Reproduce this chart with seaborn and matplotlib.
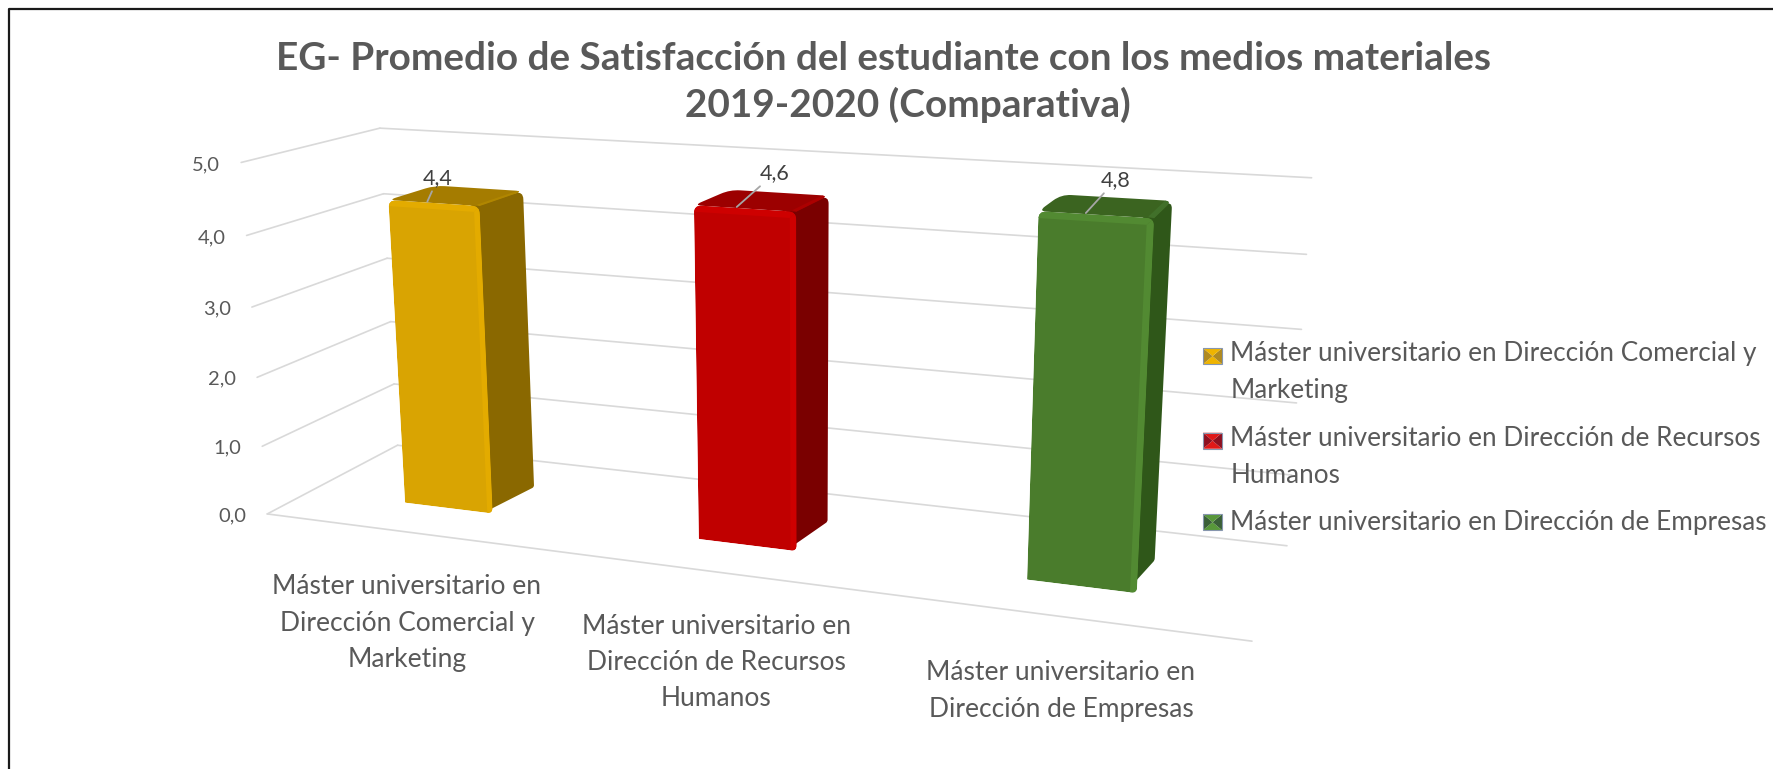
import numpy as np
import matplotlib
matplotlib.use("Agg")
import matplotlib.pyplot as plt
import seaborn as sns
import pandas as pd
from matplotlib.transforms import Transform, IdentityTransform
from matplotlib.patches import Polygon, Patch, PathPatch
from matplotlib.path import Path
from matplotlib.lines import Line2D
from matplotlib.legend_handler import HandlerBase

# ---- data ----
categories = ["Máster universitario en Dirección Comercial y Marketing",
              "Máster universitario en Dirección de Recursos Humanos",
              "Máster universitario en Dirección de Empresas"]
values = [4.4, 4.6, 4.8]
value_labels = ["4,4", "4,6", "4,8"]
y_ticks = [0, 1, 2, 3, 4, 5]
y_tick_labels = ["0,0", "1,0", "2,0", "3,0", "4,0", "5,0"]
axis_labels = ["Máster universitario en\nDirección Comercial y\nMarketing",
               "Máster universitario en\nDirección de Recursos\nHumanos",
               "Máster universitario en\nDirección de Empresas"]
legend_labels = ["Máster universitario en Dirección Comercial y\nMarketing",
                 "Máster universitario en Dirección de Recursos\nHumanos",
                 "Máster universitario en Dirección de Empresas"]
title = "EG- Promedio de Satisfacción del estudiante con los medios materiales\n     2019-2020 (Comparativa)"

# ---- style ----
front_colors = ["#D9A402", "#C00000", "#4A7C2C"]
side_colors = ["#8A6800", "#7A0000", "#2F5719"]
top_colors = ["#A57C00", "#9C0000", "#3B6420"]
top_bevel_colors = ["#B08600", "#AC0000", "#41702A"]
bevel_colors = ["#E3AB00", "#CE0000", "#528A32"]
swatch_tb = ["#EFB400", "#E01818", "#58983A"]
swatch_lr = ["#B08A20", "#8E1020", "#3A6038"]
swatch_edge = "#8796AE"
text_color = "#595959"
grid_color = "#D9D9D9"
BAR_W = 0.31
Z0, Z1 = 0.31, 0.67

W_PX, H_PX = 1773, 769
# projection calibration: (category pos, value, depth) -> reference pixel
calib = [((0, 0, 0), (267, 514)), ((3, 0, 0), (1252, 641)), ((0, 0, 1), (398, 445)),
         ((3, 0, 1), (1287, 546)), ((0, 5, 0), (242, 162)), ((0, 5, 1), (380, 128)),
         ((3, 5, 1), (1312, 178)), ((0, 4, 0), (246, 236)), ((0, 4, 1), (383, 194)),
         ((3, 4, 1), (1306, 254))]
rows = []
rhs = []
for (X, Y, Z), (u, v) in calib:
    p = [X, Y, Z, 1.0]
    rows.append(p + [0, 0, 0, 0] + [-u * q for q in p[:3]])
    rows.append([0, 0, 0, 0] + p + [-v * q for q in p[:3]])
    rhs += [u, v]
P = np.append(np.linalg.lstsq(np.array(rows, float), np.array(rhs, float), rcond=None)[0], 1.0).reshape(3, 4)


def project(x, y, z):
    """x = seaborn category coordinate, y = value, z = depth -> display pixels."""
    x, y, z = np.broadcast_arrays(x, y, z)
    q = P @ np.vstack([np.ravel(x) + 0.5, np.ravel(y), np.ravel(z), np.ones(np.size(x))])
    return np.column_stack([q[0] / q[2], H_PX - q[1] / q[2]])


class Plane(Transform):
    """(x, value) at fixed depth z to display pixels."""
    input_dims = output_dims = 2

    def __init__(self, z):
        super().__init__()
        self.z = z

    def transform_non_affine(self, values):
        v = np.asarray(values, float)
        return project(v[:, 0], v[:, 1], self.z)


class SideWall(Transform):
    """(depth, value) on the left wall to display pixels."""
    input_dims = output_dims = 2

    def transform_non_affine(self, values):
        v = np.asarray(values, float)
        return project(-0.5, v[:, 1], v[:, 0])


def px(x, y):
    return (x, H_PX - y)


def rounded(points, radii):
    """Closed path through the corner points, each corner rounded by its radius (pixels)."""
    pts = np.vstack(points)
    n = len(pts)
    verts, codes = [], []
    for k in range(n):
        c, prv, nxt = pts[k], pts[k - 1], pts[(k + 1) % n]
        a = c + (prv - c) / np.linalg.norm(prv - c) * radii[k]
        b = c + (nxt - c) / np.linalg.norm(nxt - c) * radii[k]
        verts.append(a)
        codes.append(Path.MOVETO if k == 0 else Path.LINETO)
        verts += [c, b]
        codes += [Path.CURVE3, Path.CURVE3]
    verts.append(verts[0])
    codes.append(Path.CLOSEPOLY)
    return Path(np.array(verts), codes)


sns.set_theme(style="white")
plt.rcParams["font.family"] = ["Lato", "DejaVu Sans"]
plt.rcParams["text.color"] = text_color

fig = plt.figure(figsize=(W_PX / 100, H_PX / 100), dpi=100, facecolor="white")
ax = fig.add_axes([0, 0, 1, 1])
df = pd.DataFrame({"cat": categories, "val": values})
sns.barplot(data=df, x="cat", y="val", hue="cat", palette=front_colors, saturation=1,
            width=BAR_W, legend=False, ax=ax, zorder=5)
ax.set_xlim(-0.5, 2.5)
ax.set_ylim(0, 5)
ax.set_axis_off()

ident = IdentityTransform()

# gridlines: back wall, side wall, floor front edge
for v in y_ticks:
    ax.plot([-0.5, 2.5], [v, v], transform=Plane(1.0), color=grid_color, lw=1.2, zorder=1, clip_on=False)
    ax.plot([0, 1], [v, v], transform=SideWall(), color=grid_color, lw=1.2, zorder=1, clip_on=False)
ax.plot([-0.5, 2.5], [0, 0], transform=Plane(0.0), color=grid_color, lw=1.2, zorder=1, clip_on=False)

# y tick labels
for v, lab in zip(y_ticks, y_tick_labels):
    xp, yp = project(-0.5, v, 0)[0]
    ax.text(xp - 35, yp - 2, lab, transform=ident, ha="center", va="center",
            fontsize=14.5, color=text_color)


def face(path, color, z, clip=None):
    patch = PathPatch(path, transform=ident, facecolor=color, edgecolor="none", zorder=z)
    ax.add_patch(patch)
    if clip is not None:
        patch.set_clip_path(clip, ident)
    else:
        patch.set_clip_on(False)


# 3-D bars: the front face is the seaborn bar, other faces follow its geometry
for i, bar in enumerate(list(ax.patches)[:3]):
    x0 = bar.get_x()
    x1 = x0 + bar.get_width()
    v = bar.get_height()
    front_path = rounded([project(x0, 0, Z0), project(x1, 0, Z0), project(x1, v, Z0), project(x0, v, Z0)],
                         [1, 6, 8, 8])
    bar.set_transform(Plane(Z0))
    bar.set_linewidth(0)
    bar.set_zorder(6)
    bar.set_clip_path(front_path, ident)
    # side and top faces; the side runs a little under the front so no notch shows at the rounded corners
    inset = 0.03
    face(rounded([project(x1 - inset, 0, Z0), project(x1, 0, Z1), project(x1, v, Z1), project(x1 - inset, v, Z0)],
                 [6, 2, 8, 0.1]), side_colors[i], 4)
    top_path = rounded([project(x0, v, Z0), project(x1, v, Z0), project(x1, v, Z1), project(x0, v, Z1)],
                       [8, 0.1, 8, 10])
    face(top_path, top_colors[i], 4.5)
    # bevels
    dx = 0.019
    dy = 0.085
    dz = 0.05
    face(Path(np.vstack([project(x1 - dx, 0, Z0), project(x1, 0, Z0), project(x1, v, Z0),
                         project(x1 - dx, v - dy, Z0), project(x1 - dx, 0, Z0)])),
         bevel_colors[i], 7, clip=front_path)
    face(Path(np.vstack([project(x0, v - dy, Z0), project(x1 - dx, v - dy, Z0), project(x1, v, Z0),
                         project(x0, v, Z0), project(x0, v - dy, Z0)])),
         bevel_colors[i], 7, clip=front_path)
    face(Path(np.vstack([project(x1 - dx, v, Z0 + dz / 2), project(x1, v, Z0), project(x1, v, Z1),
                         project(x1 - dx, v, Z1), project(x1 - dx, v, Z0 + dz / 2)])),
         top_bevel_colors[i], 4.8, clip=top_path)

# value labels with leader lines
label_px = [(438, 178), (775, 173), (1116, 180)]
for i, (v, lab, lp) in enumerate(zip(values, value_labels, label_px)):
    ax.annotate(lab, xy=(i - 0.03, v), xycoords=Plane(0.33), xytext=px(*lp), textcoords=ident,
                ha="center", va="center", fontsize=15.5, color="#404040", zorder=8,
                arrowprops=dict(arrowstyle="-", color="#A6A6A6", lw=1.3, shrinkA=0, shrinkB=0))

# category labels
cat_px = [(407, 623), (716, 663), (1061, 691)]
for lab, (xp, yp) in zip(axis_labels, cat_px):
    ax.text(xp, H_PX - yp, lab, transform=ident, ha="center", va="center", fontsize=19,
            color=text_color, linespacing=1.55)

fig.suptitle(title, x=884 / W_PX, y=1 - 82 / H_PX, ha="center", va="center", fontsize=27.9,
             fontweight="bold", color=text_color, linespacing=1.36)


# legend with pyramid-shaded swatches
class PyramidHandler(HandlerBase):
    def __init__(self, tb, lr, up):
        super().__init__()
        self.tb, self.lr, self.up = tb, lr, up

    def create_artists(self, legend, orig, xd, yd, w, h, fontsize, trans):
        y0 = -yd + self.up
        h2 = 11.5
        x0 = -xd
        c = (x0 + w / 2, y0 + h2 / 2)
        corners = [(x0, y0), (x0 + w, y0), (x0 + w, y0 + h2), (x0, y0 + h2)]
        cols = [self.tb, self.lr, self.tb, self.lr]
        out = [Polygon([corners[k], corners[(k + 1) % 4], c], closed=True, transform=trans,
                       facecolor=cols[k], edgecolor="none") for k in range(4)]
        out.append(Polygon(corners, closed=True, transform=trans, facecolor="none",
                           edgecolor=swatch_edge, lw=0.8))
        return out


handles = [Patch(label=l) for l in legend_labels]
ups = [13 if "\n" in l else 0 for l in legend_labels]
hmap = {h: PyramidHandler(swatch_tb[i], swatch_lr[i], ups[i]) for i, h in enumerate(handles)}
leg = fig.legend(handles=handles, labels=legend_labels, handler_map=hmap, loc="upper left",
                 bbox_to_anchor=(1203 / W_PX, 1 - 341 / H_PX), frameon=False, borderpad=0,
                 borderaxespad=0, handlelength=0.73, handletextpad=0.31, labelspacing=0.85,
                 fontsize=18.8, labelcolor=text_color)
for t in leg.get_texts():
    t.set_linespacing(1.62)

# outer frame: left and top only
fig.add_artist(Line2D([8.5, 8.5, W_PX], [0, H_PX - 8.5, H_PX - 8.5], transform=ident, color="#1A1A1A", lw=1.6))

fig.savefig("out.png", dpi=100, facecolor="white")
